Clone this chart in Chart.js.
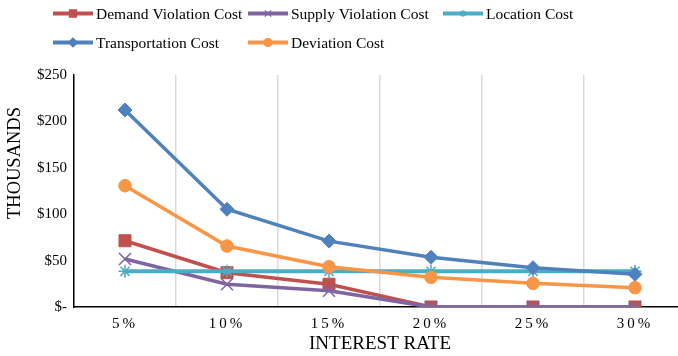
<!DOCTYPE html>
<html>
<head>
<meta charset="utf-8">
<script src="https://cdn.jsdelivr.net/npm/chart.js@4.4.1/dist/chart.umd.min.js"></script>
<style>
  html, body { margin: 0; padding: 0; overflow: hidden; background: #fff; }
  #wrap { width: 678px; height: 356px; overflow: hidden; }
  canvas { display: block; }
</style>
</head>
<body>
<div id="wrap"><canvas id="c" width="700" height="356"></canvas></div>
<script>
// Interest rate scenarios
const rates = ['5%', '10%', '15%', '20%', '25%', '30%'];

// Cost components, in thousands of dollars
const demandViolation = [71.4, 37, 24.5, 0, 0, 0];
const supplyViolation = [51.7, 24.5, 17.5, 0, 0, 0];
const locationCost = [38.5, 38.5, 38.5, 38.5, 38.5, 38.5];
const transportation = [212.3, 105.3, 71, 53.6, 42.4, 35.2];
const deviation = [130.7, 65.7, 43.4, 32, 25.5, 20.8];

// Y axis ticks
const yTicks = [0, 50, 100, 150, 200, 250];

const SERIF = "'Liberation Serif', 'Times New Roman', serif";

const series = [
  { label: 'Demand Violation Cost', data: demandViolation, color: '#C0504D', style: 'rect', r: 8.5, bw: 1, lw: 3.5, legR: 5 },
  { label: 'Supply Violation Cost', data: supplyViolation, color: '#8064A2', style: 'crossRot', r: 8.5, bw: 1.5, lw: 3.5, legR: 4.5 },
  { label: 'Location Cost', data: locationCost, color: '#4BACC6', style: 'star', r: 6.5, bw: 1.5, lw: 4, legR: 3.5 },
  { label: 'Transportation Cost', data: transportation, color: '#4F81BD', style: 'rectRot', r: 7, bw: 1, lw: 3.5, legR: 4.5 },
  { label: 'Deviation Cost', data: deviation, color: '#F79646', style: 'circle', r: 6.3, bw: 1, lw: 3.5, legR: 4 }
];

const datasets = series.map((s, i) => ({
  label: s.label,
  data: s.data,
  borderColor: s.color,
  backgroundColor: s.color,
  borderWidth: s.lw,
  pointStyle: s.style,
  pointRadius: s.r,
  pointHoverRadius: s.r,
  pointBorderWidth: s.bw,
  pointBackgroundColor: s.color,
  pointBorderColor: s.color,
  tension: 0,
  fill: false,
  order: series.length - 1 - i
}));

// Legend laid out as a fixed three-column grid above the plot
const gridLegend = {
  id: 'gridLegend',
  afterDraw(chart) {
    const ctx = chart.ctx;
    ctx.save();
    chart.data.datasets.forEach((ds, i) => {
      const s = series[i];
      const col = i % 3, row = Math.floor(i / 3);
      const x0 = 53 + col * 195;
      const y = 13.5 + row * 29;
      ctx.strokeStyle = s.color;
      ctx.lineWidth = 4;
      ctx.lineCap = 'butt';
      ctx.beginPath();
      ctx.moveTo(x0, y);
      ctx.lineTo(x0 + 40, y);
      ctx.stroke();
      ctx.fillStyle = s.color;
      ctx.strokeStyle = s.color;
      ctx.lineWidth = 1.2;
      Chart.helpers.drawPoint(ctx, { pointStyle: s.style, radius: s.legR, borderWidth: 1.2, rotation: 0 }, x0 + 20, y);
      ctx.fillStyle = '#000';
      ctx.font = '15.5px ' + SERIF;
      ctx.textBaseline = 'middle';
      ctx.textAlign = 'left';
      ctx.fillText(s.label, x0 + 43, y + 1);
    });
    // vertical axis title
    ctx.translate(15.5, 163);
    ctx.rotate(-Math.PI / 2);
    ctx.font = '18.5px ' + SERIF;
    ctx.fillStyle = '#000';
    ctx.textAlign = 'center';
    ctx.textBaseline = 'middle';
    ctx.fillText('THOUSANDS', 0, 0);
    ctx.restore();
  }
};

// Spaced-out category labels on the x axis
const spacedLabels = {
  id: 'spacedLabels',
  beforeDraw(chart) {
    const s = chart.scales.x;
    if (s && !s._spaced) {
      const orig = s.drawLabels.bind(s);
      s.drawLabels = function (area) {
        const c = this.ctx;
        c.save();
        c.letterSpacing = '3px';
        orig(area);
        c.restore();
      };
      s._spaced = true;
    }
  }
};

new Chart(document.getElementById('c'), {
  type: 'line',
  data: { labels: rates, datasets },
  plugins: [gridLegend, spacedLabels],
  options: {
    responsive: false,
    animation: false,
    layout: { padding: { top: 75, right: 14, bottom: 0, left: 0 } },
    plugins: {
      legend: { display: false },
      tooltip: { enabled: false }
    },
    scales: {
      x: {
        type: 'category',
        offset: true,
        grid: { display: true, offset: true, color: '#d9d9d9', lineWidth: 1.5, drawTicks: false },
        border: { display: true, color: '#000', width: 1.5 },
        ticks: { color: '#000', font: { family: SERIF, size: 15 }, padding: 8, maxRotation: 0 },
        title: { display: true, text: 'INTEREST RATE', color: '#000', font: { family: SERIF, size: 19 }, padding: { top: 0, bottom: 1 } },
        afterFit(scale) { scale.height = 49; }
      },
      y: {
        min: 0,
        max: 250,
        afterBuildTicks(scale) { scale.ticks = yTicks.map(v => ({ value: v })); },
        grid: { display: false, drawTicks: false },
        border: { display: true, color: '#000', width: 1.5 },
        ticks: {
          color: '#000',
          font: { family: SERIF, size: 15 },
          padding: 7,
          callback: v => (v === 0 ? '$-' : '$' + v)
        },
        afterFit(scale) { scale.width = 74; }
      }
    }
  }
});
</script>
</body>
</html>
